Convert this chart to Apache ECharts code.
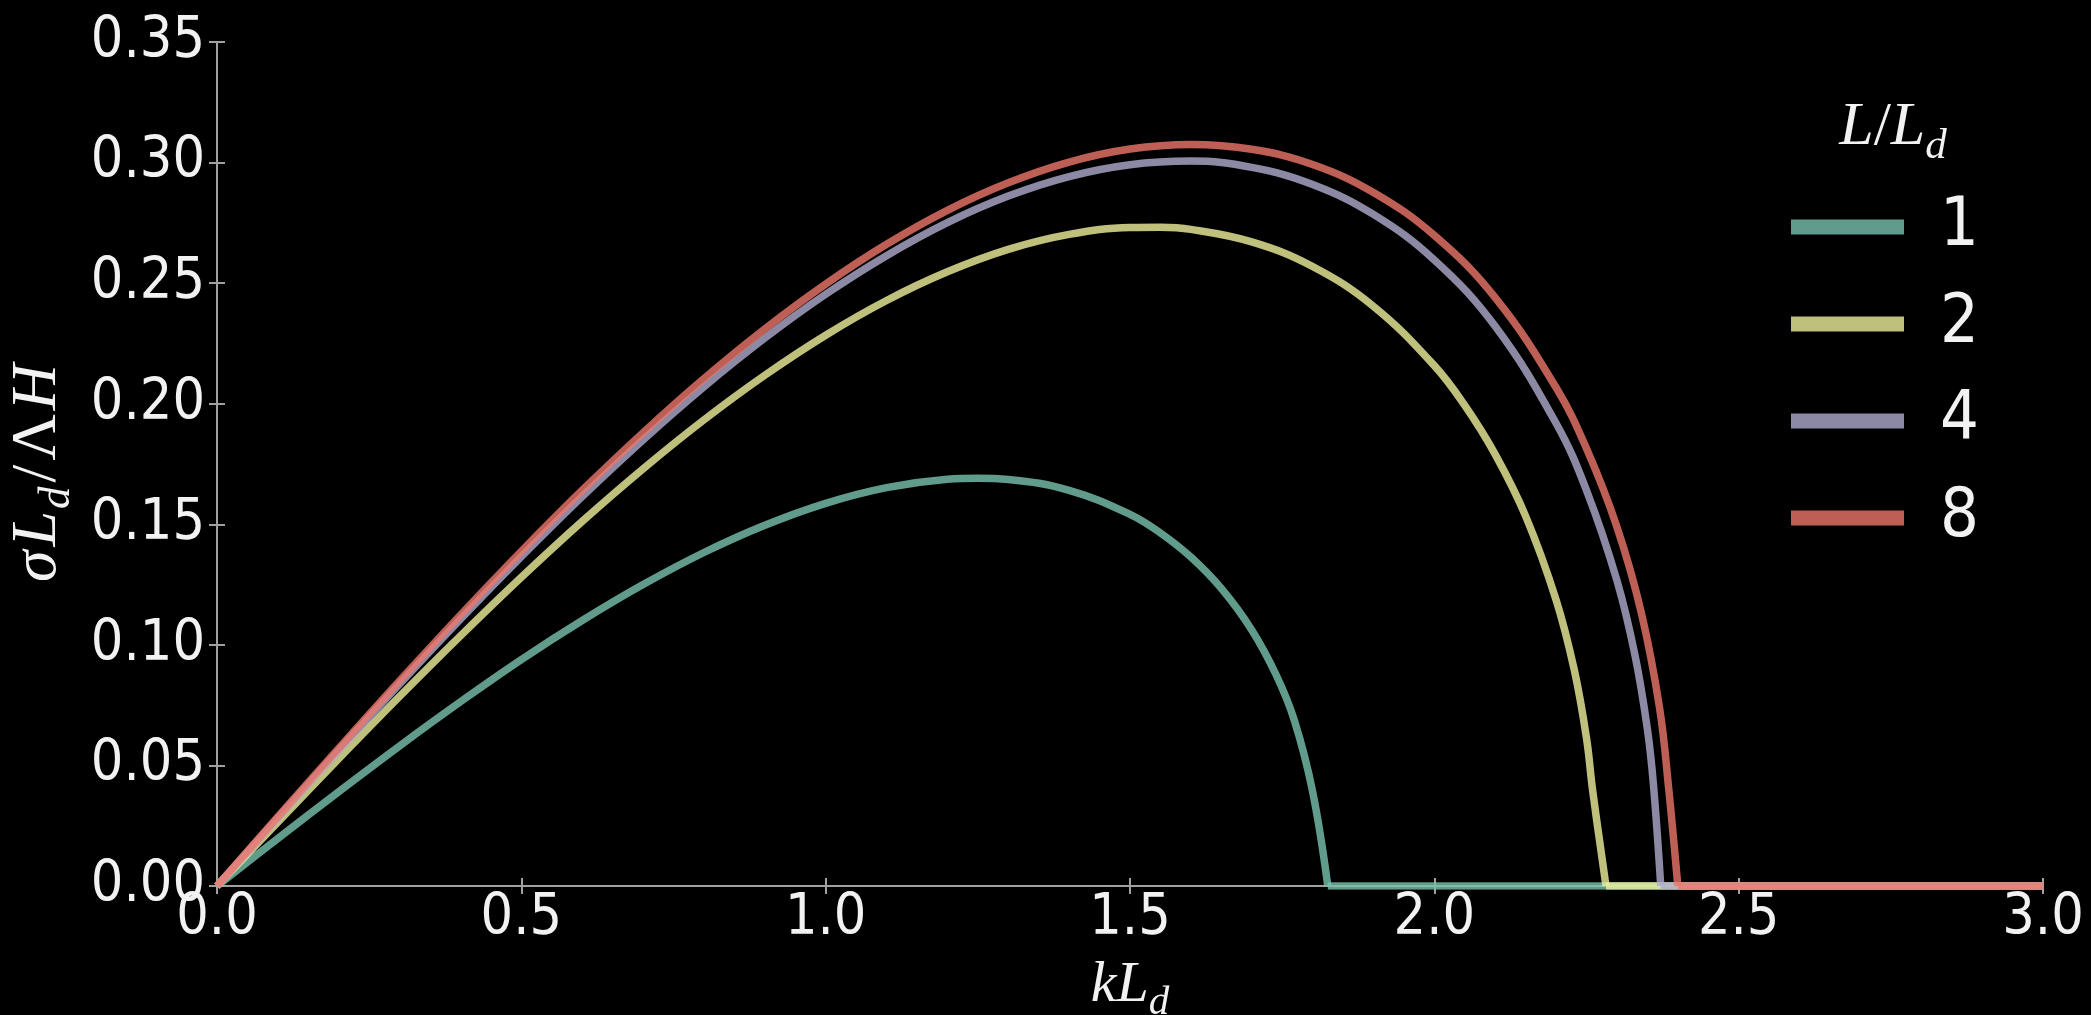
<!DOCTYPE html>
<html>
<head>
<meta charset="utf-8">
<script src="https://cdn.jsdelivr.net/npm/echarts@6/dist/echarts.min.js"></script>
<style>
  html, body { margin: 0; padding: 0; background: #000; }
  #chart { width: 2091px; height: 1015px; }
</style>
</head>
<body>
<div id="chart"></div>
<script>
// Growth rate of the most unstable mode against along-channel wavenumber,
// for four channel widths L/L_d.
const kL1 = [0, 0.1, 0.2, 0.3, 0.4, 0.5, 0.6, 0.7, 0.8, 0.9, 1.0, 1.1, 1.2, 1.25, 1.3, 1.4, 1.5, 1.55, 1.6, 1.65, 1.7, 1.74, 1.77, 1.8, 1.825, 3.0];
const sigma1 = [0, 0.0197, 0.0391, 0.0581, 0.0764, 0.0939, 0.1101, 0.1250, 0.1383, 0.1496, 0.1587, 0.1652, 0.1687, 0.1691, 0.1686, 0.1641, 0.1541, 0.1464, 0.1364, 0.1234, 0.1062, 0.0876, 0.0687, 0.0392, 0, 0];

const kL2 = [0, 0.1, 0.2, 0.3, 0.4, 0.5, 0.6, 0.7, 0.8, 0.9, 1.0, 1.1, 1.2, 1.3, 1.4, 1.5, 1.55, 1.6, 1.7, 1.8, 1.9, 2.0, 2.05, 2.1, 2.15, 2.2, 2.23, 2.25, 2.26, 2.282, 3.0];
const sigma2 = [0, 0.0265, 0.0528, 0.0786, 0.1037, 0.1280, 0.1512, 0.1730, 0.1933, 0.2118, 0.2284, 0.2428, 0.2547, 0.2640, 0.2702, 0.2731, 0.2732, 0.2723, 0.2671, 0.2569, 0.2404, 0.2158, 0.1993, 0.1790, 0.1534, 0.1187, 0.0895, 0.0613, 0.0398, 0, 0];

const kL4 = [0, 0.1, 0.2, 0.3, 0.4, 0.5, 0.6, 0.7, 0.8, 0.9, 1.0, 1.1, 1.2, 1.3, 1.4, 1.5, 1.6, 1.7, 1.8, 1.9, 2.0, 2.1, 2.2, 2.25, 2.3, 2.33, 2.35, 2.36, 2.372, 3.0];
const sigma4 = [0, 0.0282, 0.0562, 0.0838, 0.1107, 0.1366, 0.1615, 0.1850, 0.2070, 0.2272, 0.2454, 0.2614, 0.2751, 0.2861, 0.2942, 0.2991, 0.3006, 0.2980, 0.2909, 0.2785, 0.2596, 0.2321, 0.1919, 0.1641, 0.1267, 0.0953, 0.0651, 0.0420, 0, 0];

const kL8 = [0, 0.1, 0.2, 0.3, 0.4, 0.5, 0.6, 0.7, 0.8, 0.9, 1.0, 1.1, 1.2, 1.3, 1.4, 1.5, 1.6, 1.7, 1.8, 1.9, 2.0, 2.1, 2.2, 2.25, 2.3, 2.34, 2.37, 2.385, 2.4, 3.0];
const sigma8 = [0, 0.0287, 0.0571, 0.0851, 0.1124, 0.1388, 0.1641, 0.1880, 0.2104, 0.2310, 0.2496, 0.2661, 0.2802, 0.2916, 0.3002, 0.3056, 0.3075, 0.3055, 0.2992, 0.2876, 0.2698, 0.2440, 0.2067, 0.1814, 0.1489, 0.1134, 0.0739, 0.0405, 0, 0];

const widthLabels = ['1', '2', '4', '8'];
const xTickLabels = ['0.0', '0.5', '1.0', '1.5', '2.0', '2.5', '3.0'];
const yTickLabels = ['0.00', '0.05', '0.10', '0.15', '0.20', '0.25', '0.30', '0.35'];

// Semi-transparent line colours so that overlapping curves lighten.
const lineColors = [
  'rgba(121,194,175,0.8)',
  'rgba(238,240,155,0.8)',
  'rgba(175,171,206,0.8)',
  'rgba(238,119,106,0.8)'
];

const tickFont = "'DejaVu Sans Condensed', 'DejaVu Sans', sans-serif";
const mathFont = "'Liberation Serif', 'DejaVu Serif', serif";
const axisGray = '#a0a0a0';
const textWhite = '#f2f2f2';

function pairs(xs, ys) { return xs.map((x, i) => [x, ys[i]]); }

// Rich-text styles for italic math with a lowered subscript.
// size = main font size, key = colour property name, gap = side padding per glyph run.
function mathRich(size, key, gap) {
  const sub = Math.round(size * 0.7);
  const drop = Math.round(size * 0.45);
  const c = {};
  c[key] = textWhite;
  return {
    i: Object.assign({ fontFamily: mathFont, fontStyle: 'italic', fontSize: size, lineHeight: size, verticalAlign: 'top', padding: [0, gap, 0, gap] }, c),
    r: Object.assign({ fontFamily: mathFont, fontStyle: 'normal', fontSize: size, lineHeight: size, verticalAlign: 'top', padding: [0, gap, 0, gap] }, c),
    s: Object.assign({ fontFamily: mathFont, fontStyle: 'italic', fontSize: sub, lineHeight: sub, verticalAlign: 'top', padding: [drop, gap, 0, 0] }, c)
  };
}

const curves = [
  { k: kL1, s: sigma1 },
  { k: kL2, s: sigma2 },
  { k: kL4, s: sigma4 },
  { k: kL8, s: sigma8 }
];

const series = [];
curves.forEach((c, i) => {
  const pts = pairs(c.k, c.s);
  const n = pts.length;
  // growing branch, up to the short-wave cutoff
  series.push({
    name: widthLabels[i],
    type: 'line',
    xAxisIndex: 0,
    yAxisIndex: 0,
    data: pts.slice(0, n - 1),
    symbol: 'none',
    showSymbol: false,
    smooth: 0.4,
    z: 2 + i,
    lineStyle: { width: 7.5, color: lineColors[i], join: 'round', cap: 'butt' },
    itemStyle: { color: lineColors[i], borderWidth: 0 },
    emphasis: { disabled: true },
    animation: false
  });
  // neutral branch beyond the cutoff
  series.push({
    name: widthLabels[i] + ' neutral',
    type: 'line',
    xAxisIndex: 0,
    yAxisIndex: 0,
    data: pts.slice(n - 2),
    symbol: 'none',
    showSymbol: false,
    smooth: false,
    z: 2 + i,
    lineStyle: { width: 7.5, color: lineColors[i], cap: 'butt' },
    itemStyle: { color: lineColors[i], borderWidth: 0 },
    emphasis: { disabled: true },
    animation: false
  });
});

const option = {
  backgroundColor: '#000',
  animation: false,
  grid: {
    left: 217, right: 48, top: 42, bottom: 129,
    containLabel: false, outerBoundsMode: 'none'
  },
  xAxis: [
    {
      type: 'value', position: 'bottom', min: 0, max: 3, interval: 0.5,
      axisLine: { show: true, onZero: false, lineStyle: { color: axisGray, width: 2 } },
      axisTick: { show: true, inside: true, length: 8, lineStyle: { color: axisGray, width: 2 } },
      splitLine: { show: false },
      axisLabel: {
        show: true, margin: 5, color: textWhite, fontFamily: tickFont, fontSize: 57,
        showMinLabel: true, showMaxLabel: true,
        formatter: v => xTickLabels[Math.round(v / 0.5)]
      },
      name: '{i|kL}{s|d}',
      nameLocation: 'middle',
      nameGap: 71,
      nameTextStyle: { color: textWhite, rich: mathRich(58, 'color', 0) }
    },
    {
      type: 'value', position: 'top', min: 0, max: 3, interval: 0.5,
      axisLine: { show: false },
      axisTick: { show: true, inside: true, length: 8, lineStyle: { color: axisGray, width: 2 } },
      axisLabel: { show: false },
      splitLine: { show: false }
    }
  ],
  yAxis: [
    {
      type: 'value', position: 'left', min: 0, max: 0.35, interval: 0.05,
      axisLine: { show: true, onZero: false, lineStyle: { color: axisGray, width: 2 } },
      axisTick: { show: true, inside: true, length: 8, lineStyle: { color: axisGray, width: 2 } },
      splitLine: { show: false },
      axisLabel: {
        show: true, margin: 12, color: textWhite, fontFamily: tickFont, fontSize: 57,
        padding: [0, 0, 8, 0],
        showMinLabel: true, showMaxLabel: true,
        formatter: v => yTickLabels[Math.round(v / 0.05)]
      },
      name: '{i|σ}{i|L}{s|d}{r|/}{r|Λ}{i|H}',
      nameLocation: 'middle',
      nameRotate: 90,
      nameGap: 134,
      nameTextStyle: { color: textWhite, padding: [0, 18, 0, 0], rich: mathRich(64, 'color', 2) }
    },
    {
      type: 'value', position: 'right', min: 0, max: 0.35, interval: 0.05,
      axisLine: { show: false },
      axisTick: { show: true, inside: true, length: 8, lineStyle: { color: axisGray, width: 2 } },
      axisLabel: { show: false },
      splitLine: { show: false }
    }
  ],
  legend: {
    orient: 'vertical',
    left: 1791,
    top: 193,
    padding: 0,
    itemWidth: 113,
    itemHeight: 15,
    itemGap: 29,
    icon: 'rect',
    selectedMode: false,
    itemStyle: { borderWidth: 0 },
    textStyle: {
      color: textWhite, fontFamily: tickFont, fontSize: 68, lineHeight: 68,
      padding: [0, 0, 0, 31]
    },
    data: widthLabels
  },
  graphic: [
    {
      type: 'text',
      x: 1893,
      y: 97,
      z: 10,
      style: {
        text: '{i|L}{r|/}{i|L}{s|d}',
        fill: textWhite,
        align: 'center',
        verticalAlign: 'top',
        rich: mathRich(62, 'fill', 0)
      }
    }
  ],
  series: series
};

const chart = echarts.init(document.getElementById('chart'), null, { renderer: 'canvas' });
chart.setOption(option);
</script>
</body>
</html>
